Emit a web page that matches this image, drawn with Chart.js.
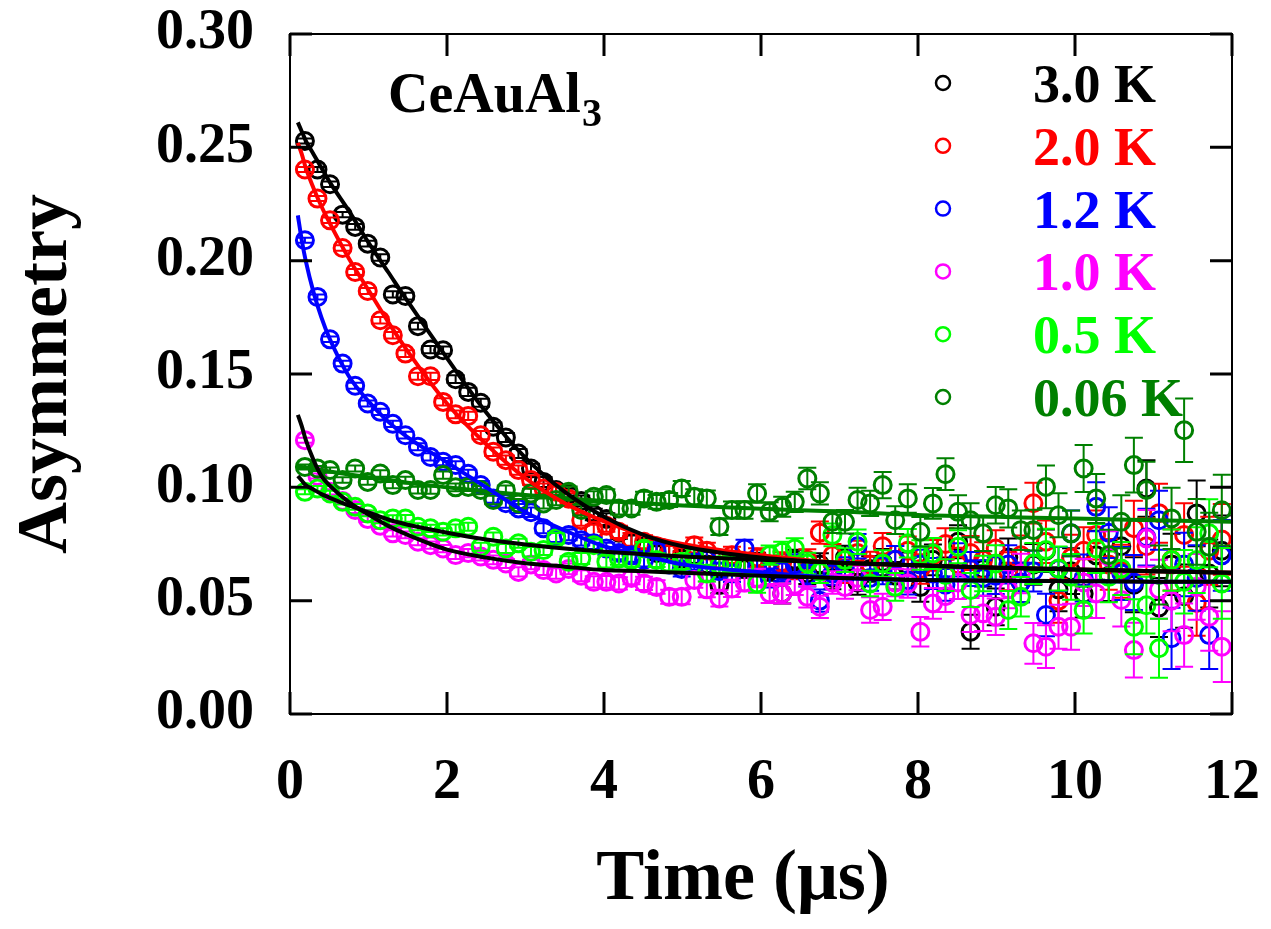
<!DOCTYPE html>
<html>
<head>
<meta charset="utf-8">
<title>CeAuAl3 asymmetry</title>
<script src="https://cdn.jsdelivr.net/npm/chart.js@4.4.0/dist/chart.umd.min.js"></script>
<style>
  html, body { margin: 0; padding: 0; background: #fff; }
</style>
</head>
<body>
<canvas id="c" width="1271" height="929"></canvas>
<script>
// time bins (µs)
const times = [0.19,0.35,0.51,0.67,0.83,0.99,1.15,1.31,1.47,1.63,1.79,1.95,2.11,2.27,2.43,2.59,2.75,2.91,3.07,3.23,3.39,3.55,3.71,3.87,4.03,4.19,4.35,4.51,4.67,4.83,4.99,5.15,5.31,5.47,5.63,5.79,5.95,6.11,6.27,6.43,6.59,6.75,6.91,7.07,7.23,7.39,7.55,7.71,7.87,8.03,8.19,8.35,8.51,8.67,8.83,8.99,9.15,9.31,9.47,9.63,9.79,9.95,10.11,10.27,10.43,10.59,10.75,10.91,11.07,11.23,11.39,11.55,11.71,11.87];

// error bar half heights, read per bin
const errs = [0.0011,0.0011,0.0012,0.0012,0.0013,0.0013,0.0014,0.0014,0.0015,0.0015,0.0016,0.0016,0.0017,0.0018,0.0018,0.0019,0.0020,0.0020,0.0021,0.0022,0.0023,0.0024,0.0024,0.0025,0.0026,0.0027,0.0028,0.0029,0.0030,0.0031,0.0033,0.0034,0.0035,0.0036,0.0038,0.0039,0.0041,0.0042,0.0044,0.0045,0.0047,0.0049,0.0050,0.0052,0.0054,0.0056,0.0058,0.0061,0.0063,0.0065,0.0068,0.0070,0.0073,0.0075,0.0078,0.0081,0.0084,0.0087,0.0090,0.0094,0.0097,0.0101,0.0104,0.0108,0.0112,0.0117,0.0121,0.0125,0.0130,0.0135,0.0140,0.0145,0.0150,0.0156];

const a3K = [0.2528,0.2402,0.2337,0.2203,0.2149,0.2075,0.2014,0.1851,0.1844,0.1711,
  0.1608,0.1605,0.1477,0.1421,0.1373,0.1267,0.1220,0.1149,0.1083,0.1024,
  0.0988,0.0970,0.0940,0.0880,0.0860,0.0800,0.0760,0.0740,0.0710,0.0720,
  0.0686,0.0700,0.0660,0.0569,0.0660,0.0640,0.0670,0.0630,0.0532,0.0680,
  0.0620,0.0660,0.0600,0.0690,0.0580,0.0640,0.0670,0.0610,0.0650,0.0560,
  0.0680,0.0620,0.0760,0.0363,0.0640,0.0473,0.0690,0.0580,0.0660,0.0720,
  0.0550,0.0630,0.0530,0.0700,0.0610,0.0740,0.0570,0.0995,0.0470,0.0660,
  0.0520,0.0885,0.0620,0.0720];
const a2K = [0.2402,0.2274,0.2178,0.2056,0.1950,0.1866,0.1737,0.1671,0.1590,0.1490,
  0.1490,0.1377,0.1322,0.1315,0.1230,0.1157,0.1120,0.1076,0.1032,0.0995,
  0.0980,0.0950,0.0855,0.0810,0.0830,0.0804,0.0770,0.0760,0.0740,0.0710,
  0.0700,0.0745,0.0720,0.0680,0.0700,0.0660,0.0690,0.0650,0.0670,0.0640,
  0.0680,0.0800,0.0700,0.0630,0.0710,0.0660,0.0740,0.0680,0.0720,0.0640,
  0.0700,0.0750,0.0660,0.0710,0.0680,0.0730,0.0630,0.0700,0.0930,0.0760,
  0.0500,0.0690,0.0720,0.0790,0.0660,0.0630,0.0820,0.0740,0.0886,0.0680,
  0.0790,0.0490,0.0720,0.0770];
const a1_2K = [0.2090,0.1840,0.1653,0.1546,0.1448,0.1370,0.1333,0.1280,0.1230,0.1179,
  0.1134,0.1113,0.1098,0.1060,0.1010,0.0951,0.0930,0.0907,0.0890,0.0819,
  0.0782,0.0790,0.0767,0.0753,0.0730,0.0710,0.0700,0.0680,0.0720,0.0660,
  0.0640,0.0670,0.0680,0.0630,0.0620,0.0730,0.0650,0.0600,0.0630,0.0660,
  0.0610,0.0500,0.0620,0.0640,0.0740,0.0600,0.0630,0.0680,0.0590,0.0660,
  0.0620,0.0570,0.0680,0.0640,0.0600,0.0610,0.0660,0.0580,0.0630,0.0437,
  0.0640,0.0797,0.0600,0.0914,0.0800,0.0620,0.0580,0.0780,0.0855,0.0334,
  0.0660,0.0600,0.0348,0.0700];
const a1K = [0.1208,0.1050,0.0980,0.0940,0.0900,0.0860,0.0830,0.0797,0.0790,0.0760,
  0.0745,0.0730,0.0701,0.0710,0.0695,0.0680,0.0664,0.0627,0.0660,0.0635,
  0.0620,0.0640,0.0610,0.0583,0.0583,0.0576,0.0600,0.0576,0.0560,0.0517,
  0.0517,0.0591,0.0550,0.0510,0.0554,0.0580,0.0600,0.0532,0.0532,0.0570,
  0.0517,0.0473,0.0580,0.0560,0.0600,0.0459,0.0473,0.0580,0.0576,0.0363,
  0.0488,0.0520,0.0580,0.0437,0.0444,0.0429,0.0550,0.0620,0.0312,0.0297,
  0.0385,0.0385,0.0580,0.0532,0.0694,0.0503,0.0282,0.0775,0.0550,0.0500,
  0.0348,0.0561,0.0429,0.0297];
const a0_5K = [0.0980,0.0995,0.0973,0.0936,0.0914,0.0885,0.0855,0.0863,0.0863,0.0826,
  0.0819,0.0804,0.0819,0.0826,0.0738,0.0782,0.0730,0.0753,0.0716,0.0723,
  0.0775,0.0672,0.0686,0.0745,0.0672,0.0686,0.0679,0.0730,0.0679,0.0664,
  0.0672,0.0694,0.0620,0.0657,0.0664,0.0650,0.0576,0.0701,0.0716,0.0730,
  0.0664,0.0627,0.0790,0.0679,0.0760,0.0576,0.0664,0.0561,0.0753,0.0701,
  0.0708,0.0613,0.0738,0.0547,0.0620,0.0664,0.0459,0.0517,0.0664,0.0723,
  0.0642,0.0605,0.0459,0.0730,0.0605,0.0642,0.0385,0.0480,0.0290,0.0679,
  0.0583,0.0679,0.0797,0.0576];
const a0_06K = [0.1090,0.1083,0.1076,0.1032,0.1083,0.1024,0.1061,0.1010,0.1032,0.0988,
  0.0988,0.1054,0.1000,0.1002,0.0988,0.0944,0.0988,0.0929,0.0973,0.0929,
  0.0944,0.0980,0.0900,0.0958,0.0966,0.0907,0.0907,0.0951,0.0936,0.0944,
  0.0995,0.0958,0.0951,0.0826,0.0900,0.0900,0.0973,0.0892,0.0914,0.0936,
  0.1039,0.0973,0.0848,0.0848,0.0944,0.0929,0.1010,0.0855,0.0951,0.0804,
  0.0929,0.1058,0.0892,0.0855,0.0797,0.0921,0.0907,0.0811,0.0811,0.1002,
  0.0877,0.0797,0.1083,0.0951,0.0701,0.0848,0.1098,0.0988,0.0613,0.0863,
  0.1252,0.0804,0.0738,0.0899];

// fitted curves
const fitTimes = [0.1,0.15,0.2,0.3,0.4,0.5,0.75,1,1.25,1.5,2,2.5,3,3.5,4,4.5,5,6,7,8,9,10,11,12];
const fit3K   = [0.261,0.257,0.253,0.247,0.241,0.235,0.222,0.208,0.195,0.182,0.157,0.133,0.113,0.098,0.087,0.079,0.074,0.069,0.0667,0.0656,0.0645,0.0638,0.063,0.0623];
const fit2K   = [0.252,0.247,0.241,0.232,0.224,0.217,0.201,0.187,0.173,0.160,0.137,0.119,0.104,0.093,0.085,0.079,0.075,0.070,0.0667,0.0656,0.0645,0.0638,0.063,0.0623];
const fit1_2K = [0.220,0.209,0.200,0.186,0.175,0.166,0.149,0.138,0.129,0.122,0.111,0.100,0.089,0.081,0.074,0.070,0.066,0.0625,0.060,0.0591,0.0588,0.0586,0.0584,0.0583];
const fit1K   = [0.132,0.127,0.121,0.112,0.105,0.101,0.0935,0.088,0.083,0.079,0.0725,0.069,0.0665,0.065,0.0635,0.063,0.0623,0.061,0.060,0.0591,0.0588,0.0586,0.0584,0.0583];
const fit0_5K = [0.105,0.103,0.101,0.099,0.097,0.0955,0.092,0.089,0.0858,0.0835,0.080,0.077,0.0748,0.073,0.0716,0.0705,0.0695,0.068,0.0667,0.0656,0.0645,0.0638,0.063,0.0623];
const fit0_06K= [0.109,0.109,0.1088,0.1082,0.1076,0.107,0.1057,0.1045,0.1033,0.102,0.100,0.0982,0.0966,0.0952,0.094,0.093,0.092,0.0905,0.0893,0.0878,0.087,0.0862,0.0855,0.0848];

const serif = "'Liberation Serif', 'Times New Roman', serif";

function pts(xs, ys) { return xs.map((t, i) => ({x: t, y: ys[i]})); }

function series(label, vals, color, order) {
  return {
    label: label, legend: true, data: pts(times, vals), errors: errs,
    borderColor: color, backgroundColor: 'rgba(0,0,0,0)',
    pointRadius: 8.5, pointBorderWidth: 3, pointStyle: 'circle',
    showLine: false, order: order
  };
}
function fit(vals, color) {
  return {
    label: 'fit', data: pts(fitTimes, vals), borderColor: color,
    borderWidth: 4, pointRadius: 0, showLine: true,
    cubicInterpolationMode: 'monotone', order: 0
  };
}

// error bars under each dataset's own markers
const errorBars = {
  id: 'errorBars',
  beforeDatasetDraw(chart, args) {
    const ds = chart.data.datasets[args.index];
    if (!ds.errors) return;
    const {ctx, chartArea: a, scales: {x, y}} = chart;
    ctx.save();
    ctx.beginPath();
    ctx.rect(a.left, a.top, a.right - a.left, a.bottom - a.top);
    ctx.clip();
    ctx.strokeStyle = ds.borderColor;
    ctx.lineWidth = 2;
    ds.data.forEach((p, i) => {
      const px = x.getPixelForValue(p.x);
      const y1 = y.getPixelForValue(p.y + ds.errors[i]);
      const y2 = y.getPixelForValue(p.y - ds.errors[i]);
      ctx.beginPath();
      ctx.moveTo(px, y1); ctx.lineTo(px, y2);
      ctx.moveTo(px - 9, y1); ctx.lineTo(px + 9, y1);
      ctx.moveTo(px - 9, y2); ctx.lineTo(px + 9, y2);
      ctx.stroke();
    });
    ctx.restore();
  }
};

// box + inward ticks on all sides
const frame = {
  id: 'frame',
  afterDraw(chart) {
    const {ctx, chartArea: a, scales: {x, y}} = chart;
    ctx.save();
    ctx.strokeStyle = '#000';
    ctx.lineWidth = 2;
    ctx.strokeRect(a.left, a.top, a.right - a.left, a.bottom - a.top);
    ctx.lineWidth = 3;
    ctx.beginPath();
    x.ticks.forEach(t => {
      const p = x.getPixelForValue(t.value);
      ctx.moveTo(p, a.bottom); ctx.lineTo(p, a.bottom - 22);
      ctx.moveTo(p, a.top); ctx.lineTo(p, a.top + 22);
    });
    y.ticks.forEach(t => {
      const p = y.getPixelForValue(t.value);
      ctx.moveTo(a.left, p); ctx.lineTo(a.left + 22, p);
      ctx.moveTo(a.right, p); ctx.lineTo(a.right - 22, p);
    });
    ctx.stroke();
    ctx.restore();
  }
};

// legend inside plot + compound label
const labels = {
  id: 'labels',
  afterDraw(chart) {
    const {ctx, chartArea: a} = chart;
    ctx.save();
    const items = chart.data.datasets.filter(d => d.legend);
    items.forEach((d, k) => {
      const yy = a.top + 49 + k * 62.8;
      ctx.beginPath();
      ctx.strokeStyle = d.borderColor;
      ctx.lineWidth = 2.5;
      ctx.arc(a.left + 653, yy, 7, 0, Math.PI * 2);
      ctx.stroke();
      ctx.fillStyle = d.borderColor;
      ctx.font = 'bold 54px ' + serif;
      ctx.textBaseline = 'alphabetic';
      ctx.textAlign = 'left';
      ctx.fillText(d.label, a.left + 743, yy + 19);
    });
    ctx.fillStyle = '#000';
    ctx.font = 'bold 56px ' + serif;
    const main = 'CeAuAl';
    ctx.fillText(main, a.left + 98, a.top + 78);
    const w = ctx.measureText(main).width;
    ctx.font = 'bold 40px ' + serif;
    ctx.fillText('3', a.left + 98 + w + 1, a.top + 92);
    ctx.restore();
  }
};

new Chart(document.getElementById('c'), {
  type: 'scatter',
  data: {
    datasets: [
      fit(fit1K, '#000000'),
      fit(fit0_5K, '#000000'),
      fit(fit3K, '#000000'),
      fit(fit2K, '#ff0000'),
      fit(fit1_2K, '#0000ff'),
      fit(fit0_06K, '#008000'),
      series('3.0 K', a3K, '#000000', 6),
      series('2.0 K', a2K, '#ff0000', 5),
      series('1.2 K', a1_2K, '#0000ff', 4),
      series('1.0 K', a1K, '#ff00ff', 3),
      series('0.5 K', a0_5K, '#00ff00', 2),
      series('0.06 K', a0_06K, '#008000', 1)
    ]
  },
  options: {
    responsive: false,
    animation: false,
    devicePixelRatio: 1,
    layout: { padding: { top: 34, right: 39, left: 0, bottom: 0 }, autoPadding: false },
    plugins: { legend: { display: false }, tooltip: { enabled: false } },
    scales: {
      x: {
        type: 'linear', min: 0, max: 12,
        grid: { display: false }, border: { display: false },
        ticks: { stepSize: 2, color: '#000', padding: 28, font: { family: serif, size: 56, weight: 'bold' } },
        title: { display: true, text: 'Time (μs)  ', color: '#000', padding: { top: 0, bottom: 13 },
                 font: { family: serif, size: 72, weight: 'bold', lineHeight: 1 } },
        afterFit(s) { s.height = 215; s.paddingLeft = 0; s.paddingRight = 0; }
      },
      y: {
        min: 0, max: 0.30,
        grid: { display: false }, border: { display: false },
        ticks: { stepSize: 0.05, color: '#000', padding: 28, callback: v => v.toFixed(2),
                 font: { family: serif, size: 56, weight: 'bold' } },
        title: { display: true, text: 'Asymmetry', color: '#000', padding: { top: 11, bottom: 0 },
                 font: { family: serif, size: 72, weight: 'bold', lineHeight: 1 } },
        afterFit(s) { s.width = 290; s.paddingTop = 0; s.paddingBottom = 0; }
      }
    }
  },
  plugins: [errorBars, frame, labels]
});
</script>
</body>
</html>
